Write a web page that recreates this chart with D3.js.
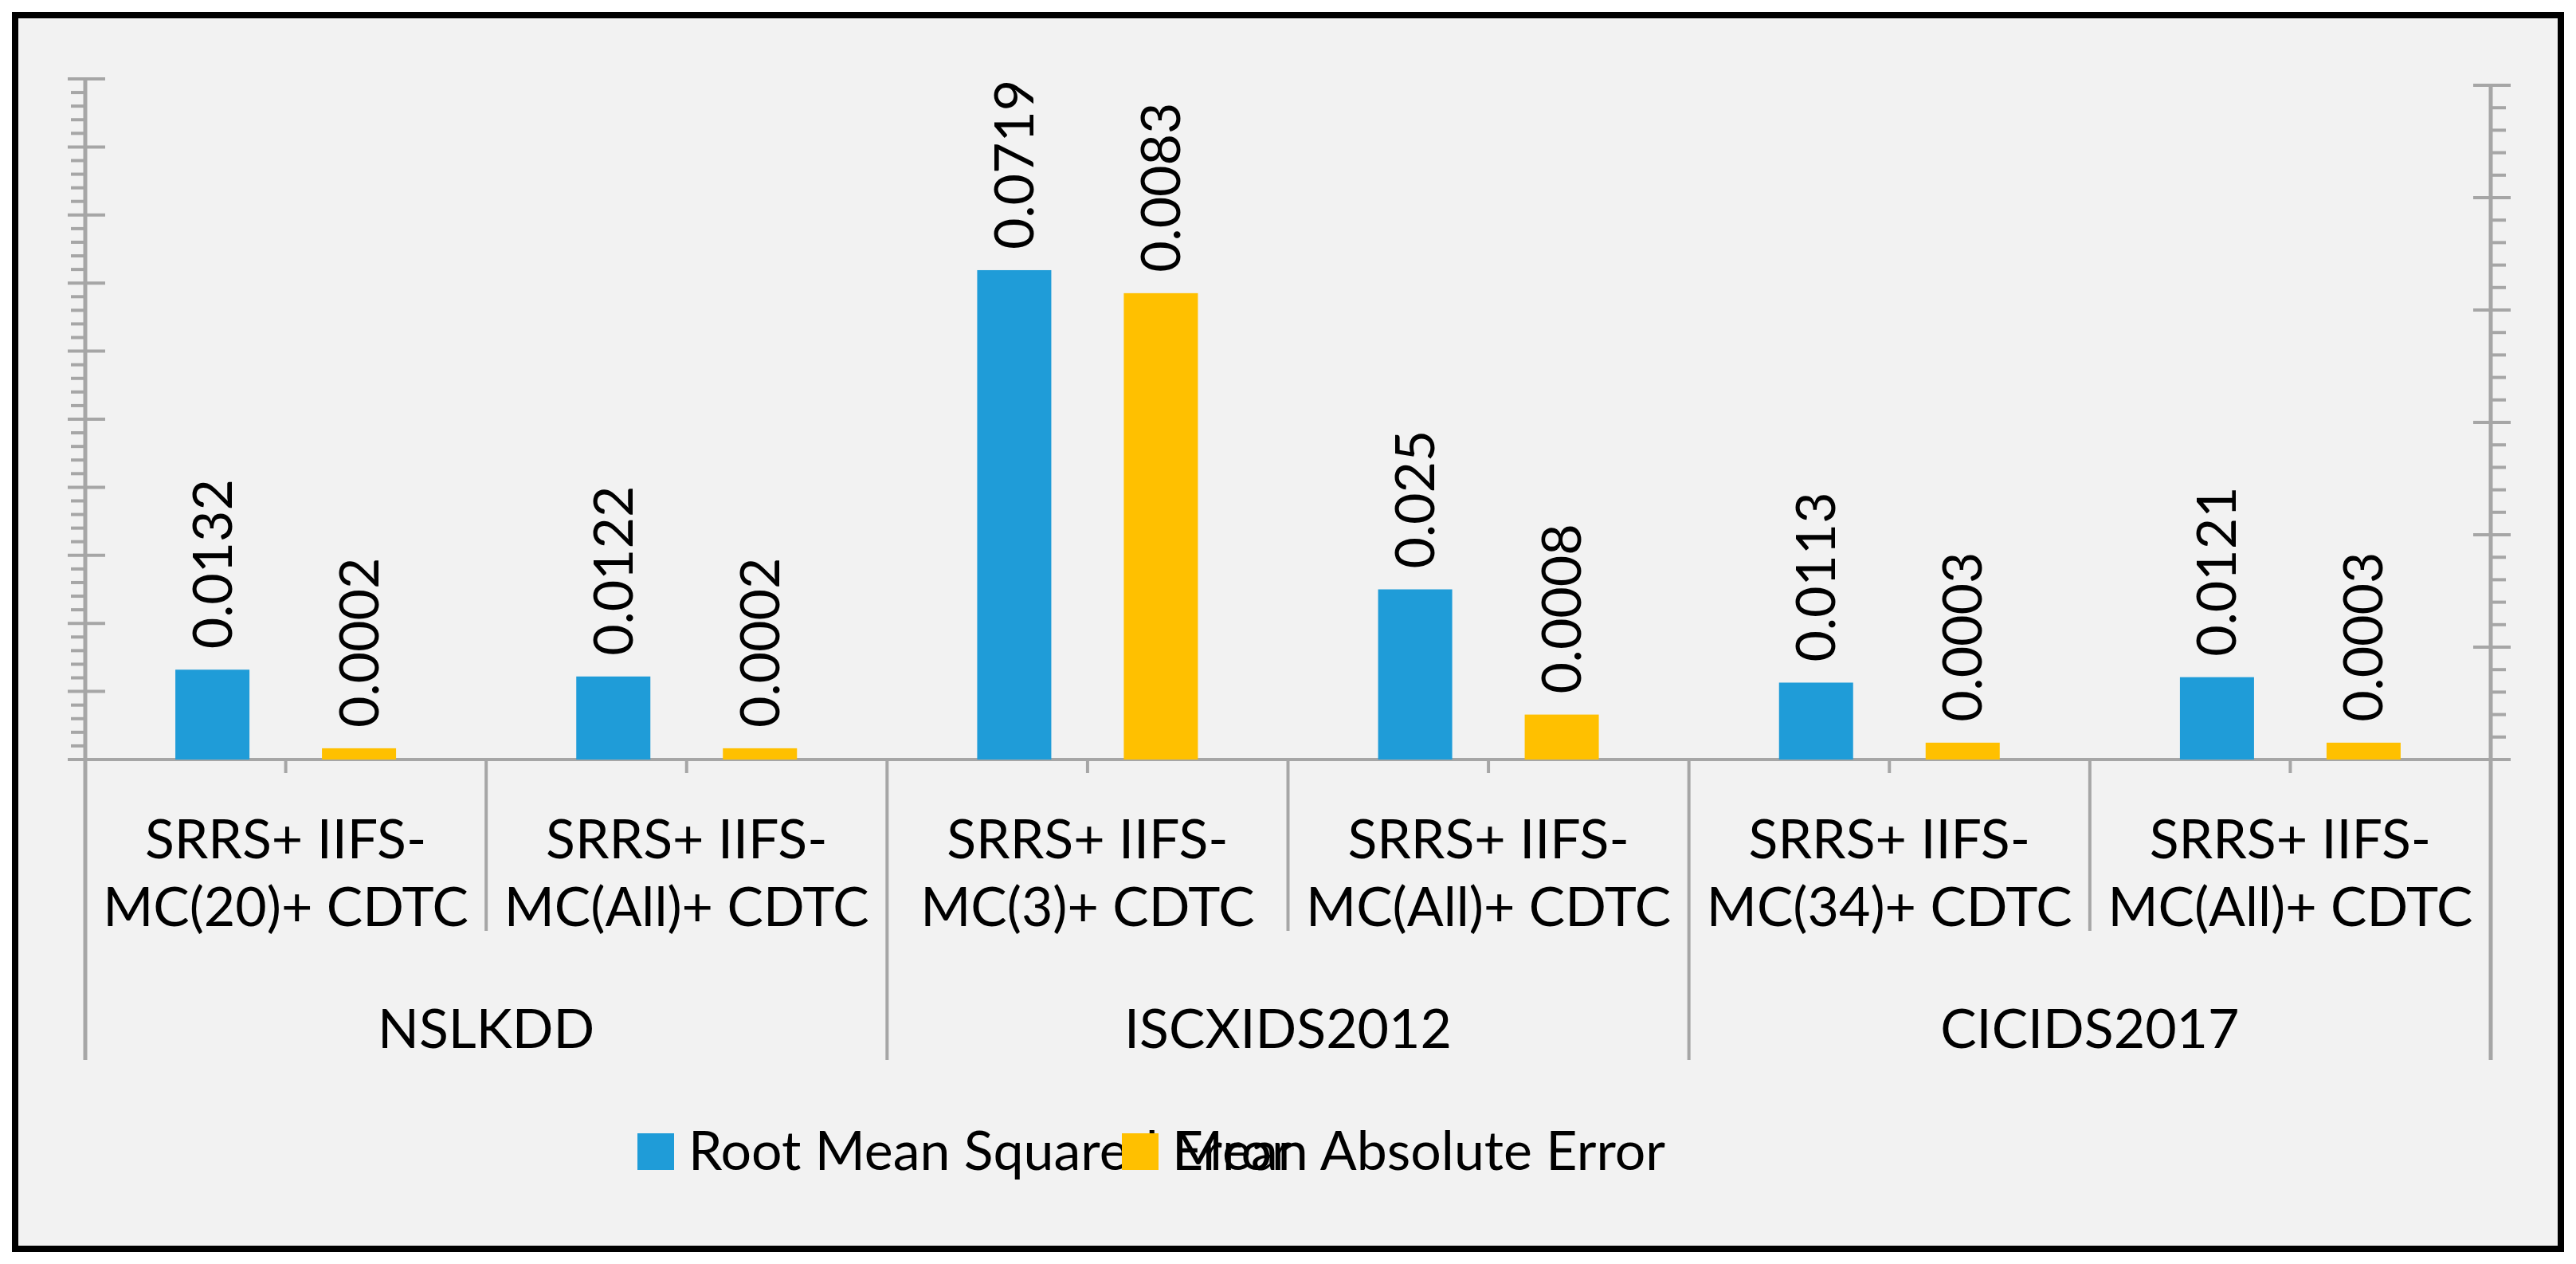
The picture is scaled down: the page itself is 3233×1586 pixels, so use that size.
<!DOCTYPE html>
<html><head><meta charset="utf-8">
<script src="https://cdn.jsdelivr.net/npm/d3@7"></script>
<style>body{margin:0;background:#fff}</style>
</head><body>
<script>
const datasets = ["NSLKDD", "ISCXIDS2012", "CICIDS2017"];
const subLine1 = ["SRRS+ IIFS-", "SRRS+ IIFS-", "SRRS+ IIFS-", "SRRS+ IIFS-", "SRRS+ IIFS-", "SRRS+ IIFS-"];
const subLine2 = ["MC(20)+ CDTC", "MC(All)+ CDTC", "MC(3)+ CDTC", "MC(All)+ CDTC", "MC(34)+ CDTC", "MC(All)+ CDTC"];
const rmse = [0.0132, 0.0122, 0.0719, 0.025, 0.0113, 0.0121];
const mae = [0.0002, 0.0002, 0.0083, 0.0008, 0.0003, 0.0003];
const seriesNames = ["Root Mean Squared Error", "Mean Absolute Error"];
const colors = ["#1f9cd8", "#ffc000"];

const W = 3233, H = 1586;
const font = "Lato, 'Open Sans', sans-serif";
const fs = 68;
const grey = "#a6a6a6";
const svg = d3.select("body").append("svg").attr("width", W).attr("height", H);

svg.append("rect").attr("x", 19).attr("y", 19).attr("width", W - 38).attr("height", H - 38)
  .attr("fill", "#f2f2f2").attr("stroke", "#000").attr("stroke-width", 8);

const x0 = 107, x1 = 3126, base = 953;
const x = d3.scaleBand().domain(d3.range(6)).range([x0, x1]);
const yL = d3.scaleLinear().domain([0, 0.1]).range([base, 99]);
const yR = d3.scaleLinear().domain([0, 0.012]).range([base, 107]);

// left axis
const gL = svg.append("g");
gL.append("line").attr("x1", x0).attr("x2", x0).attr("y1", yL(0.1)).attr("y2", 1330).attr("stroke", grey).attr("stroke-width", 5);
d3.range(0, 0.1001, 0.002).forEach((v, i) => {
  const major = i % 5 === 0;
  gL.append("line").attr("x1", major ? x0 - 22 : x0 - 18).attr("x2", major ? x0 + 25 : x0)
    .attr("y1", yL(v)).attr("y2", yL(v)).attr("stroke", grey).attr("stroke-width", 4);
});
// right axis
const gR = svg.append("g");
gR.append("line").attr("x1", x1).attr("x2", x1).attr("y1", yR(0.012)).attr("y2", 1330).attr("stroke", grey).attr("stroke-width", 5);
d3.range(0, 0.01201, 0.0004).forEach((v, i) => {
  const major = i % 5 === 0;
  gR.append("line").attr("x1", major ? x1 - 22 : x1).attr("x2", major ? x1 + 25 : x1 + 19)
    .attr("y1", yR(v)).attr("y2", yR(v)).attr("stroke", grey).attr("stroke-width", 4);
});

// baseline
svg.append("line").attr("x1", x0 - 22).attr("x2", x1 + 25).attr("y1", base).attr("y2", base).attr("stroke", grey).attr("stroke-width", 4);

// category separators
d3.range(1, 6).forEach(i => {
  const xs = x(i);
  svg.append("line").attr("x1", xs).attr("x2", xs).attr("y1", base).attr("y2", i % 2 === 0 ? 1330 : 1168).attr("stroke", grey).attr("stroke-width", 4);
});
d3.range(6).forEach(i => {
  const xc = x(i) + x.bandwidth() / 2;
  svg.append("line").attr("x1", xc).attr("x2", xc).attr("y1", base).attr("y2", base + 17).attr("stroke", grey).attr("stroke-width", 4);
});

const off = 92, bw = 93;
const bars = [rmse.map((v, i) => ({i, v, y: yL(v), cx: x(i) + x.bandwidth() / 2 - off, s: 0})),
              mae.map((v, i) => ({i, v, y: yR(v), cx: x(i) + x.bandwidth() / 2 + off, s: 1}))].flat();
svg.selectAll("rect.bar").data(bars).join("rect").attr("class", "bar")
  .attr("x", d => d.cx - bw / 2).attr("width", bw)
  .attr("y", d => d.y).attr("height", d => base - d.y).attr("fill", d => colors[d.s]);
svg.selectAll("text.val").data(bars).join("text").attr("class", "val")
  .attr("transform", d => `translate(${d.cx + 24},${d.y - 26}) rotate(-90)`)
  .attr("font-family", font).attr("font-size", fs).attr("fill", "#000")
  .text(d => d.v);

// sub-category labels
d3.range(6).forEach(i => {
  const xc = x(i) + x.bandwidth() / 2;
  svg.append("text").attr("x", xc).attr("y", 1077).attr("text-anchor", "middle").attr("font-family", font).attr("font-size", fs).text(subLine1[i]);
  svg.append("text").attr("x", xc).attr("y", 1162).attr("text-anchor", "middle").attr("font-family", font).attr("font-size", fs).text(subLine2[i]);
});
datasets.forEach((d, j) => {
  const xc = (x(2 * j) + (j < 2 ? x(2 * j + 2) : x1)) / 2;
  svg.append("text").attr("x", xc).attr("y", 1315).attr("text-anchor", "middle").attr("font-family", font).attr("font-size", fs).text(d);
});

// legend
const legX = [800, 1408];
seriesNames.forEach((n, k) => {
  svg.append("rect").attr("x", legX[k]).attr("y", 1422).attr("width", 46).attr("height", 46).attr("fill", colors[k]);
  svg.append("text").attr("x", legX[k] + 64).attr("y", 1468).attr("font-family", font).attr("font-size", fs).text(n);
});
</script>
</body></html>
